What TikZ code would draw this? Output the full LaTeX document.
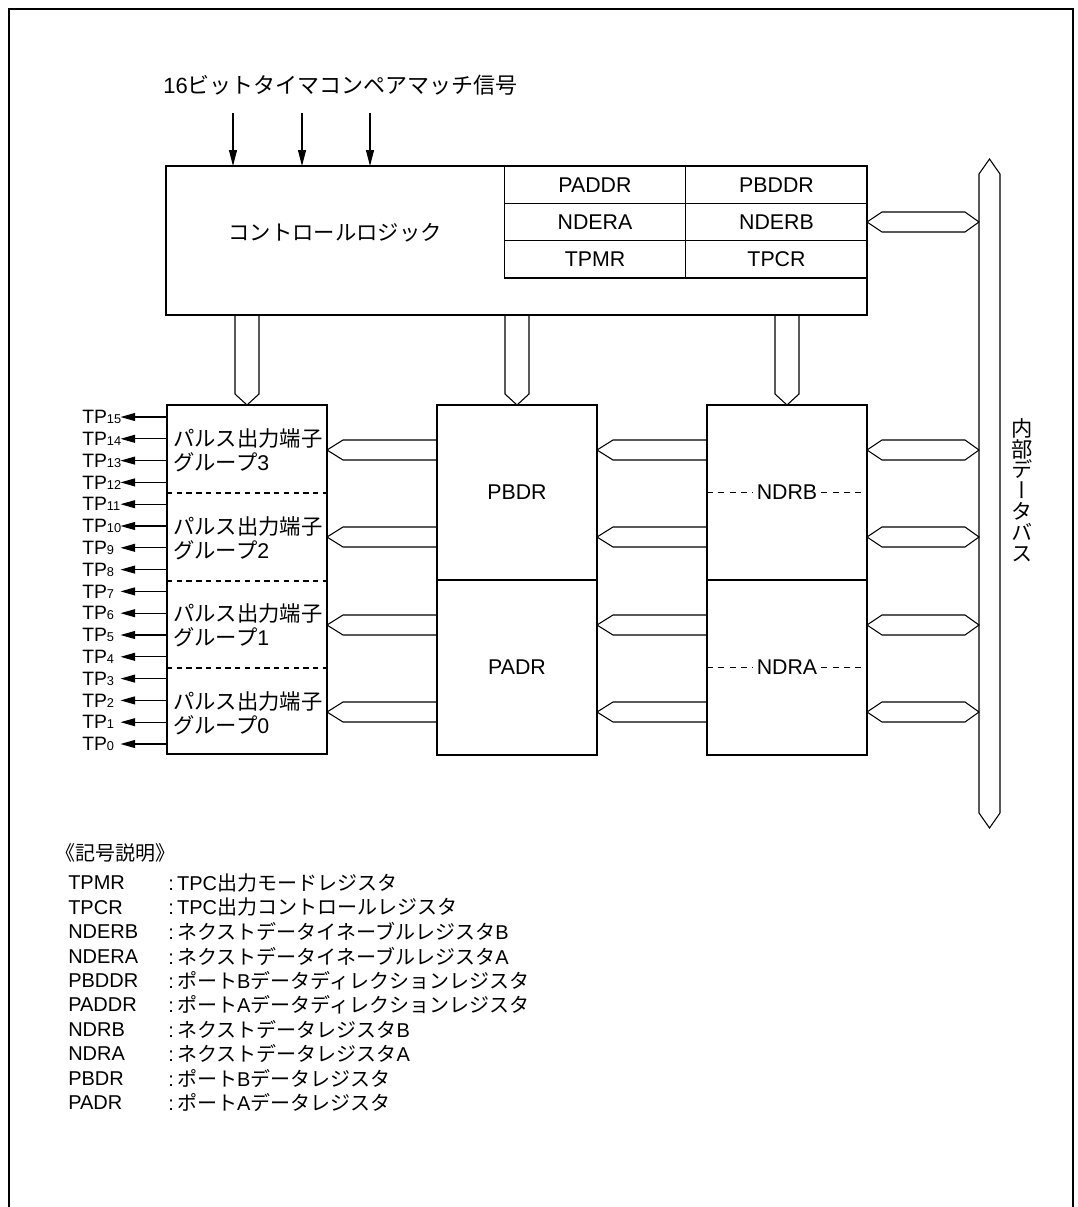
\documentclass[tikz,border=0pt]{standalone}
\usepackage{fontspec}
\setmainfont{Liberation Sans}
\newfontfamily\jpfont{Noto Sans CJK JP}
\newfontfamily\jpvfont[RawFeature=+vert]{Noto Sans CJK JP}
\usetikzlibrary{arrows.meta,calc}
\newcommand{\jp}[1]{{\jpfont #1}}
\newcommand{\subsz}{\fontsize{9.6}{10}\selectfont}
% bus pointing left: #1 = source end, #2 = tip
\newcommand{\busleft}[2]{%
  \draw[bus] ($(#1)+(0,-10)$) -- ($(#2)+(16,-10)$) -- (#2)
    -- ($(#2)+(16,10)$) -- ($(#1)+(0,10)$);}
% bus with two heads: #1 = left tip, #2 = right tip
\newcommand{\busboth}[2]{%
  \draw[bus] (#1) -- ($(#1)+(15,-10)$) -- ($(#2)+(-14,-10)$) -- (#2)
    -- ($(#2)+(-14,10)$) -- ($(#1)+(15,10)$) -- cycle;}
% bus pointing down: #1 = source end, #2 = tip
\newcommand{\busdown}[2]{%
  \draw[bus] ($(#1)+(-12,0)$) -- ($(#2)+(-12,-11)$) -- (#2)
    -- ($(#2)+(12,-11)$) -- ($(#1)+(12,0)$);}

\begin{document}
\begin{tikzpicture}[x=0.75pt,y=-0.75pt,
  font=\fontsize{16}{18}\selectfont,
  box/.style={draw,line width=0.8pt,inner sep=0pt,outer sep=0pt,
              minimum width=120pt,minimum height=131.25pt},
  reg/.style={draw,line width=0.8pt,inner sep=0pt,outer sep=0pt,
              minimum width=136.1pt,minimum height=28pt},
  bus/.style={line width=0.8pt,line join=miter},
  sig/.style={-{Triangle[length=12pt,width=6pt]},line width=0.8pt},
  pin/.style={-{Triangle[length=11pt,width=6pt]},line width=0.8pt},
  sep/.style={line width=0.8pt,dash pattern=on 4pt off 3.3pt},
  ndsep/.style={line width=0.8pt,dash pattern=on 4.5pt off 4pt},
  tp/.style={anchor=west,inner sep=0pt,text width=28.5pt,align=left,
             font=\fontsize{14.5}{15}\selectfont},
  grplbl/.style={anchor=west,align=left,inner sep=0pt},
  lgd/.style={anchor=west,inner sep=0pt,font=\fontsize{15}{18}\selectfont},
]
\useasboundingbox (0,0) rectangle (1078,1207);
\draw[line width=0.8pt] (9,1207) -- (9,9) -- (1073,9) -- (1073,1207);

% title and compare-match inputs
\node[anchor=west,inner sep=0pt,font=\fontsize{16.5}{18}\selectfont] (title) at (163,85)
  {16\jp{ビットタイマコンペアマッチ信号}};
\node[draw,line width=0.8pt,inner sep=0pt,outer sep=0pt,
      minimum width=525.75pt,minimum height=111.75pt] (ctl) at (516.5,240.5) {};
\node (ctltxt) at (335,233) {\jp{コントロールロジック}};
\foreach \x [count=\k] in {233,302,370}{
  \coordinate (sig\k) at (\x,113);
  \draw[sig] (sig\k) -- (sig\k |- ctl.north);
}

% control registers
\foreach \a/\b [count=\r from 0] in {PADDR/PBDDR,NDERA/NDERB,TPMR/TPCR}{
  \node[reg] (\a) at (595,{184.7+37.33*\r}) {\a};
  \node[reg] (\b) at (776.5,{184.7+37.33*\r}) {\b};
}

% blocks
\node[draw,line width=0.8pt,inner sep=0pt,outer sep=0pt,
      minimum width=120pt,minimum height=261.75pt] (grp) at (247,579.5) {};
\node[box] (pb) at (517,492.5) {PBDR};
\node[box] (pa) at (517,667.5) {PADR};
\node[box] (nb) at (787,492.5) {};
\node[box] (na) at (787,667.5) {};
\node[inner sep=3pt] (nbtxt) at (nb) {NDRB};
\node[inner sep=3pt] (natxt) at (na) {NDRA};
\draw[ndsep] (nb.west) -- (nbtxt.west) (nbtxt.east) -- ($(nb.east)+(-5,0)$);
\draw[ndsep] (na.west) -- (natxt.west) (natxt.east) -- ($(na.east)+(-5,0)$);

% pulse output groups
\foreach \y in {493,581,668}{
  \coordinate (dv\y) at (0,\y);
  \draw[sep] (grp.west |- dv\y) -- (grp.east |- dv\y);
}
\foreach \n/\y in {3/450,2/538,1/625,0/713}
  \node[grplbl] (gl\n) at (173,\y) {\jp{パルス出力端子}\\\jp{グループ}\n};
\foreach \i in {0,...,15}{
  \node[tp] (tp\i) at (82,{744-21.8*\i}) {TP{\subsz\i}};
  \draw[pin] (grp.west |- tp\i) -- (tp\i);
}

% internal data bus
\node[inner sep=0pt,outer sep=0pt,minimum width=15.75pt,minimum height=479.25pt] (ibus) at (989.5,493.5) {};
\draw[bus] (ibus.north west) -- ($(ibus.north)+(0,-15)$) -- (ibus.north east)
  -- (ibus.south east) -- ($(ibus.south)+(0,15)$) -- (ibus.south west) -- cycle;
\node[align=center,inner sep=0pt,font=\jpvfont\fontsize{16}{15.6}\selectfont]
  (buslbl) at (1022,490) {内\\部\\デ\\ー\\タ\\バ\\ス};

% bus connections
\coordinate (r0) at (0,222);
\coordinate (cE) at (ctl.east |- r0);
\coordinate (bW0) at (ibus.west |- r0);
\busboth{cE}{bW0}
\foreach \i/\p/\n/\y in {1/pb/nb/450,2/pb/nb/537,3/pa/na/625,4/pa/na/712}{
  \coordinate (r\i) at (0,\y);
  \coordinate (gE\i) at (grp.east |- r\i);
  \coordinate (pW\i) at (\p.west |- r\i);
  \coordinate (pE\i) at (\p.east |- r\i);
  \coordinate (nW\i) at (\n.west |- r\i);
  \coordinate (nE\i) at (\n.east |- r\i);
  \coordinate (bW\i) at (ibus.west |- r\i);
  \busleft{pW\i}{gE\i}
  \busleft{nW\i}{pE\i}
  \busboth{nE\i}{bW\i}
}
\coordinate (dg) at (ctl.south -| grp.north);
\coordinate (dp) at (ctl.south -| pb.north);
\coordinate (dn) at (ctl.south -| nb.north);
\busdown{dg}{grp.north}
\busdown{dp}{pb.north}
\busdown{dn}{nb.north}

% legend
\node[lgd] (lgdhead) at (55,853) {\jp{《記号説明》}};
\foreach \a/\d [count=\k from 0] in {%
  TPMR/TPC\jp{出力モードレジスタ},
  TPCR/TPC\jp{出力コントロールレジスタ},
  NDERB/\jp{ネクストデータイネーブルレジスタ}B,
  NDERA/\jp{ネクストデータイネーブルレジスタ}A,
  PBDDR/\jp{ポート}B\jp{データディレクションレジスタ},
  PADDR/\jp{ポート}A\jp{データディレクションレジスタ},
  NDRB/\jp{ネクストデータレジスタ}B,
  NDRA/\jp{ネクストデータレジスタ}A,
  PBDR/\jp{ポート}B\jp{データレジスタ},
  PADR/\jp{ポート}A\jp{データレジスタ}}{
  \node[lgd] (ab\k) at (68,{883+24.4*\k}) {\a};
  \node[lgd] (ds\k) at (168,{883+24.4*\k}) {:\,\d};
}
\end{tikzpicture}
\end{document}
